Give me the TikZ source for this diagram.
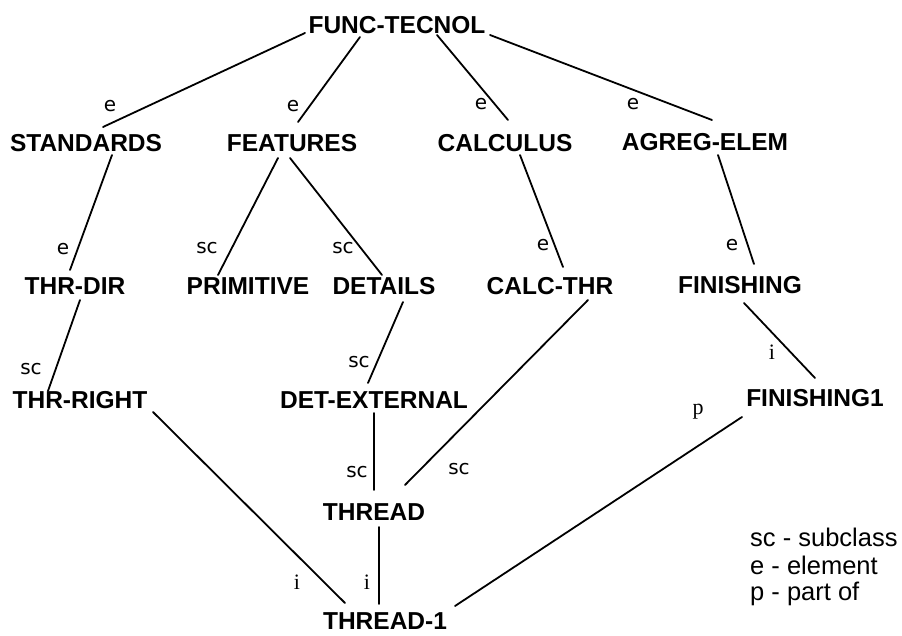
\documentclass[tikz,border=0pt]{standalone}
\usepackage{fontspec}
\setmainfont{Liberation Sans}
\newfontfamily\labserif{Liberation Serif}
\newfontfamily\labsans{DejaVu Sans}
\begin{document}
\begin{tikzpicture}[x=1pt,y=-1pt,
  concept/.style={inner sep=0pt, font=\fontsize{24.5}{24}\selectfont\bfseries},
  rel/.style={font=\fontsize{20}{20}\selectfont\labsans, inner sep=0pt},
  relserif/.style={font=\fontsize{22}{22}\selectfont\labserif, inner sep=0pt},
  link/.style={line width=1.8pt, line cap=round},
  legend/.style={anchor=west, inner sep=0pt, font=\fontsize{25.5}{25}\selectfont}]
\useasboundingbox[fill=white] (0,0) rectangle (902,636);

% concepts
\node[concept] (func)     at (397,25)  {FUNC-TECNOL};
\node[concept] (std)      at (86,143)  {STANDARDS};
\node[concept] (feat)     at (292,143) {FEATURES};
\node[concept] (calc)     at (505,143) {CALCULUS};
\node[concept] (agreg)    at (705,142) {AGREG-ELEM};
\node[concept] (thrdir)   at (75,286)  {THR-DIR};
\node[concept] (prim)     at (248,286) {PRIMITIVE};
\node[concept] (det)      at (384,286) {DETAILS};
\node[concept] (calcthr)  at (550,286) {CALC-THR};
\node[concept] (fin)      at (740,285) {FINISHING};
\node[concept] (thrright) at (80,400)  {THR-RIGHT};
\node[concept] (detext)   at (374,400) {DET-EXTERNAL};
\node[concept] (fin1)     at (815,398) {FINISHING1};
\node[concept] (thread)   at (374,512) {THREAD};
\node[concept] (thread1)  at (385,621) {THREAD-1};

% relations
\draw[link] ([shift={(-92,8)}]func.center)  -- ([shift={(17,-16)}]std.center);
\draw[link] ([shift={(-37,12)}]func.center) -- ([shift={(6,-21)}]feat.center);
\draw[link] ([shift={(40,10)}]func.center)  -- ([shift={(3,-23)}]calc.center);
\draw[link] ([shift={(93,10)}]func.center)  -- ([shift={(7,-22)}]agreg.center);
\draw[link] ([shift={(26,12)}]std.center)   -- ([shift={(-5,-16)}]thrdir.center);
\draw[link] ([shift={(-14,15)}]feat.center) -- ([shift={(-30,-11)}]prim.center);
\draw[link] ([shift={(-2,15)}]feat.center)  -- ([shift={(-2,-11)}]det.center);
\draw[link] ([shift={(15,12)}]calc.center)  -- ([shift={(13,-19)}]calcthr.center);
\draw[link] ([shift={(13,13)}]agreg.center) -- ([shift={(14,-21)}]fin.center);
\draw[link] ([shift={(5,14)}]thrdir.center) -- ([shift={(-32,-9)}]thrright.center);
\draw[link] ([shift={(19,16)}]det.center)   -- ([shift={(-6,-17)}]detext.center);
\draw[link] ([shift={(38,14)}]calcthr.center) -- ([shift={(31,-27)}]thread.center);
\draw[link] ([shift={(4,18)}]fin.center)    -- ([shift={(0,-20)}]fin1.center);
\draw[link] ([shift={(0,13)}]detext.center) -- ([shift={(0,-22)}]thread.center);
\draw[link] ([shift={(73,12)}]thrright.center) -- ([shift={(-40,-18)}]thread1.center);
\draw[link] ([shift={(5,15)}]thread.center) -- ([shift={(-6,-17)}]thread1.center);
\draw[link] ([shift={(-73,19)}]fin1.center) -- ([shift={(70,-15)}]thread1.center);

% relation labels
\node[rel] (l1)  at (110,106) {e};
\node[rel] (l2)  at (293,106) {e};
\node[rel] (l3)  at (481,104) {e};
\node[rel] (l4)  at (633,104) {e};
\node[rel] (l5)  at (63,249)  {e};
\node[rel] (l6)  at (207,248) {sc};
\node[rel] (l7)  at (343,248) {sc};
\node[rel] (l8)  at (543,245) {e};
\node[rel] (l9)  at (732,245) {e};
\node[rel] (l10) at (31,369)  {sc};
\node[rel] (l11) at (359,362) {sc};
\node[rel] (l12) at (357,472) {sc};
\node[rel] (l13) at (459,469) {sc};
\node[relserif] (l14) at (772,352) {i};
\node[relserif] (l15) at (698,412) {p};
\node[relserif] (l16) at (297,582) {i};
\node[relserif] (l17) at (367,582) {i};

% legend
\node[legend] (k1) at (750,537) {sc - subclass};
\node[legend] (k2) at (750,565) {e - element};
\node[legend] (k3) at (750,594) {p - part of};
\end{tikzpicture}
\end{document}
